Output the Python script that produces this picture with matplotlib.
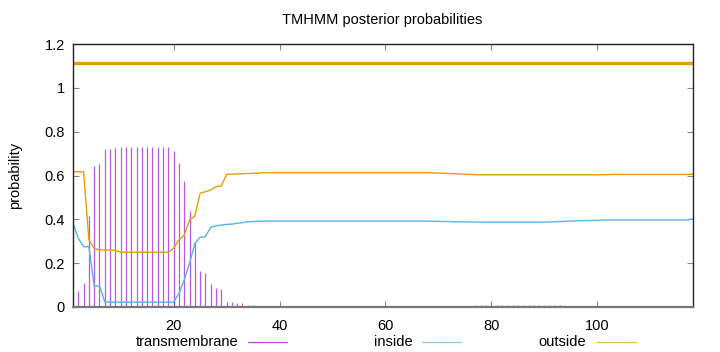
import matplotlib
matplotlib.use("Agg")
import matplotlib.pyplot as plt
from matplotlib.lines import Line2D
import numpy as np

plt.rcParams['font.family'] = ['Liberation Sans', 'DejaVu Sans']

positions = list(range(1, 119))

transmembrane = ([0.0, 0.073, 0.111, 0.415, 0.645, 0.651, 0.721, 0.721, 0.724]
                 + [0.731] * 10
                 + [0.713, 0.655, 0.575, 0.44, 0.298, 0.166, 0.157, 0.105, 0.088, 0.082,
                    0.024, 0.023, 0.02, 0.016, 0.011, 0.008, 0.005, 0.003, 0.002, 0.001]
                 + [0.0] * 29
                 + [0.004] * 3 + [0.005] * 5 + [0.007] * 2 + [0.01] * 8 + [0.009] * 3
                 + [0.007] * 4 + [0.004] * 6 + [0.003] * 4
                 + [0.0] * 15)

inside = ([0.382, 0.313, 0.275, 0.275, 0.096, 0.096, 0.024]
          + [0.022] * 13
          + [0.062, 0.123, 0.2, 0.29, 0.318, 0.321, 0.364, 0.37, 0.374, 0.377,
             0.378, 0.382, 0.385, 0.389, 0.39, 0.391]
          + [0.392] * 32
          + [0.391, 0.391, 0.390, 0.390, 0.389, 0.389, 0.388, 0.388, 0.388]
          + [0.387] * 13
          + [0.388, 0.389, 0.390, 0.391, 0.392, 0.393, 0.394, 0.394, 0.395, 0.395]
          + [0.397] * 17
          + [0.402])

outside = ([0.617, 0.617, 0.617, 0.306, 0.268, 0.26, 0.26, 0.26, 0.258]
           + [0.25] * 10
           + [0.268, 0.306, 0.328, 0.397, 0.415, 0.519, 0.526, 0.534, 0.549, 0.552,
              0.605, 0.606, 0.607, 0.608, 0.609, 0.61, 0.611]
           + [0.613] * 32
           + [0.612, 0.611, 0.610, 0.609, 0.608, 0.607, 0.606, 0.605, 0.604]
           + [0.603] * 23
           + [0.604, 0.604, 0.605, 0.605] + [0.605] * 13
           + [0.606])

top_marker_level = [1.114]

xticks = [20, 40, 60, 80, 100]
yticks = [0, 0.2, 0.4, 0.6, 0.8, 1.0, 1.2]
ytick_labels = ["0", "0.2", "0.4", "0.6", "0.8", "1", "1.2"]

c_tm = '#9400d3'
c_in = '#56b4e9'
c_out = '#e69f00'

fig = plt.figure(figsize=(7.2, 3.52), dpi=100)
ax = fig.add_axes([73 / 720, 1 - 307 / 352, (692.7 - 73) / 720, (307 - 44) / 352])

ax.vlines(positions, 0, transmembrane, colors=c_tm, linewidth=0.9, alpha=0.65)
ax.plot(positions, inside, color=c_in, linewidth=1.0)
ax.plot(positions, outside, color=c_out, linewidth=1.0)
for lvl in top_marker_level:
    ax.axhline(lvl, color=c_out, linewidth=2.4)

ax.set_xlim(1, 118)
ax.set_ylim(0, 1.2)
ax.set_xticks(xticks)
ax.set_xticklabels([str(t) for t in xticks])
ax.set_yticks(yticks)
ax.set_yticklabels(ytick_labels)
ax.tick_params(direction='in', length=4, width=0.8, color='#888888',
               top=True, right=True, labelsize=10.5, pad=6)
ax.tick_params(axis='x', pad=9)
for s in ['left', 'right', 'top']:
    ax.spines[s].set_color('#222222')
    ax.spines[s].set_linewidth(1.0)
ax.spines['bottom'].set_color('#777777')
ax.spines['bottom'].set_linewidth(1.6)

ax.set_ylabel('probability', fontsize=10.5, labelpad=16)
fig.text(382 / 720, 1 - 20 / 352, 'TMHMM posterior probabilities',
         ha='center', va='center', fontsize=10.5)

# legend (gnuplot style: label then line sample)
ly = 1 - 342 / 352
entries = [('transmembrane', c_tm, 238, 248, 287),
           ('inside', c_in, 413, 422, 461),
           ('outside', c_out, 586, 597, 636)]
for label, col, tx, l0, l1 in entries:
    fig.text(tx / 720, ly, label, ha='right', va='center', fontsize=10.5)
    fig.add_artist(Line2D([l0 / 720, l1 / 720], [ly, ly], color=col,
                          linewidth=0.9, alpha=0.7, transform=fig.transFigure))

fig.savefig('out.png', dpi=100)
